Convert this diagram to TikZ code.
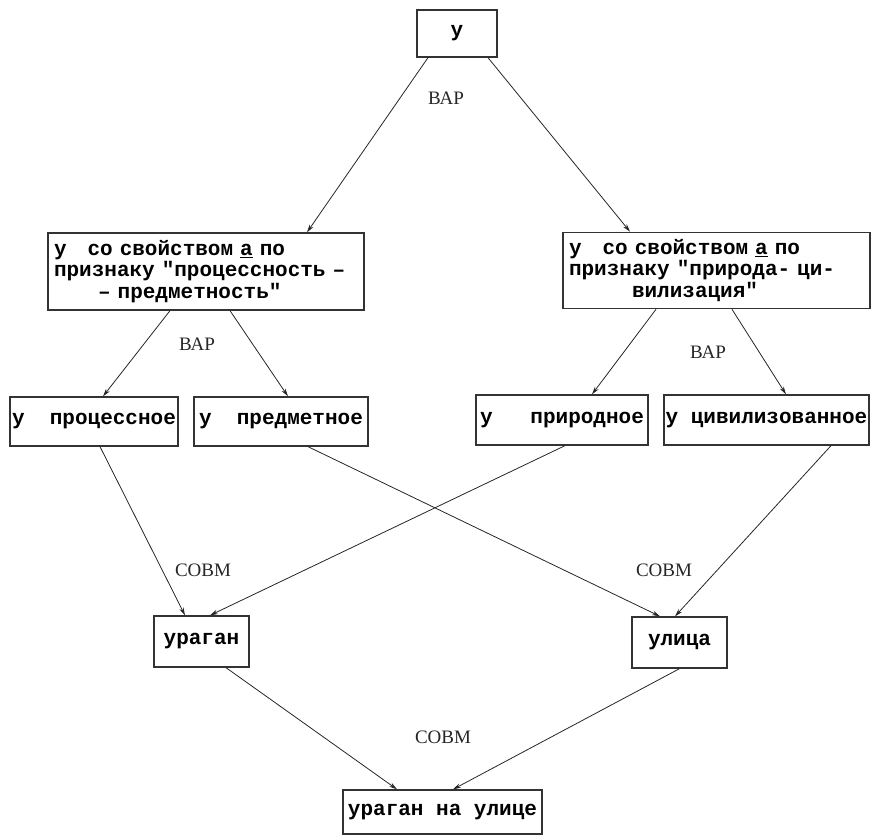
\documentclass[tikz,border=0pt]{standalone}
\usepackage{fontspec}
\setmainfont{Liberation Serif}
\setmonofont{Liberation Mono}
\usetikzlibrary{arrows.meta}

\newcommand\boxfont{\ttfamily\bfseries\fontsize{21}{21.5}\selectfont}

\tikzset{
  box/.style={draw=black!80, line width=1.3pt, inner sep=0pt, font=\boxfont},
  bigbox/.style={box, inner xsep=6pt, inner ysep=7pt, align=left},
  rel/.style={font=\fontsize{19}{19}\selectfont, text=black!85},
  arr/.style={-{Stealth[length=8pt,width=4.5pt]}, line width=0.8pt, draw=black!85}
}

\begin{document}
\begin{tikzpicture}[x=1pt, y=-1pt]
  \useasboundingbox (0,0) rectangle (872,838);

  % Top
  \node[box, minimum width=80pt, minimum height=47pt] (top) at (457,33.5) {у};

  % Second row
  \node[bigbox, text width=304pt, minimum height=77pt] (proc) at (206,271.5)
    {у~~~со свойством \underline{а} по\\признаку "процессность –\\\hspace*{2.1em}– предметность"};
  \node[bigbox, text width=295pt, minimum height=75pt] (prir) at (716.5,270.5)
    {у~~~со свойством \underline{а} по\\признаку "природа-~ци-\\\hspace*{3em}вилизация"};

  % Third row
  \node[box, minimum width=168pt, minimum height=49pt] (procn) at (94,421.5) {у~~процессное};
  \node[box, minimum width=174pt, minimum height=49pt] (predm) at (281,421.5) {у~~предметное};
  \node[box, minimum width=172pt, minimum height=50pt] (prirn) at (562,420) {у~~~природное};
  \node[box, minimum width=205pt, minimum height=50pt] (civil) at (766.5,420) {у цивилизованное};

  % Fourth row
  \node[box, minimum width=95pt, minimum height=51pt] (uragan) at (201.5,641.5) {ураган};
  \node[box, minimum width=95pt, minimum height=51pt] (ulica) at (679.5,642.5) {улица};

  % Bottom
  \node[box, minimum width=199pt, minimum height=44pt] (result) at (442.5,812) {ураган на улице};

  % Connectors
  \draw[arr] ([xshift=-29pt]top.south) -- ([xshift=101pt]proc.north);
  \draw[arr] ([xshift=31pt]top.south) -- ([xshift=-86.5pt]prir.north);

  \draw[arr] ([xshift=-36pt]proc.south) -- ([xshift=9pt]procn.north);
  \draw[arr] ([xshift=24pt]proc.south) -- ([xshift=7pt]predm.north);
  \draw[arr] ([xshift=-60.5pt]prir.south) -- ([xshift=30pt]prirn.north);
  \draw[arr] ([xshift=15.5pt]prir.south) -- ([xshift=19.5pt]civil.north);

  \draw[arr] ([xshift=6pt]procn.south) -- ([xshift=-16.5pt]uragan.north);
  \draw[arr] ([xshift=3pt]prirn.south) -- ([xshift=8.5pt]uragan.north);
  \draw[arr] ([xshift=27pt]predm.south) -- ([xshift=-19.5pt]ulica.north);
  \draw[arr] ([xshift=64.5pt]civil.south) -- ([xshift=-4.5pt]ulica.north);

  \draw[arr] ([xshift=24.5pt]uragan.south) -- ([xshift=-45.5pt]result.north);
  \draw[arr] (ulica.south) -- ([xshift=10.5pt]result.north);

  % Relation labels
  \node[rel] (var1) at (446,98) {ВАР};
  \node[rel] (var2) at (197,344) {ВАР};
  \node[rel] (var3) at (708,352) {ВАР};
  \node[rel] (sovm1) at (203,570) {СОВМ};
  \node[rel] (sovm2) at (664,570) {СОВМ};
  \node[rel] (sovm3) at (443,737) {СОВМ};
\end{tikzpicture}
\end{document}
